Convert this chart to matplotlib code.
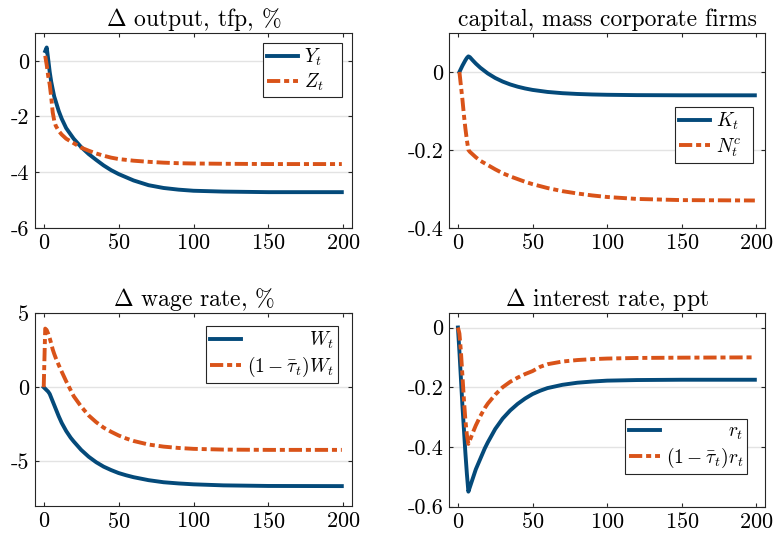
import matplotlib
matplotlib.use("Agg")
import matplotlib.pyplot as plt

plt.rcParams['font.family'] = 'serif'
plt.rcParams['font.serif'] = ['cmr10']
plt.rcParams['mathtext.fontset'] = 'cm'
plt.rcParams['axes.unicode_minus'] = False
plt.rcParams['axes.formatter.use_mathtext'] = True

# transition paths, periods
t_top = [1, 2, 3, 4, 5, 6, 7, 8, 10, 12, 15, 20, 25, 30, 35, 40, 45, 50,
         60, 70, 80, 90, 100, 120, 150, 199]
t_bot = [0, 1, 2, 3, 4, 5, 6, 7, 8, 10, 12, 15, 18, 20, 25, 30, 35, 40, 45,
         50, 55, 60, 70, 80, 90, 100, 120, 150, 199]

# output and tfp, % deviation
Y = [0.35, 0.48, 0.05, -0.4, -0.75, -1.02, -1.28, -1.45, -1.8, -2.08, -2.42,
     -2.8, -3.1, -3.35, -3.56, -3.76, -3.93, -4.07, -4.3, -4.47, -4.57, -4.63,
     -4.67, -4.7, -4.72, -4.72]
Z = [0.18, -0.15, -0.55, -0.85, -1.3, -1.85, -2.15, -2.33, -2.52, -2.65, -2.8,
     -2.96, -3.12, -3.23, -3.33, -3.41, -3.48, -3.53, -3.59, -3.63, -3.66,
     -3.68, -3.69, -3.7, -3.71, -3.71]

# capital and mass of corporate firms
K = [0.0, 0.008, 0.016, 0.023, 0.03, 0.036, 0.04, 0.038, 0.0295, 0.0215,
     0.0109, -0.0038, -0.0155, -0.0247, -0.032, -0.0378, -0.0424, -0.0461,
     -0.0513, -0.0545, -0.0565, -0.0578, -0.0586, -0.0595, -0.0599, -0.06]
Nc = [0.0, -0.035, -0.07, -0.11, -0.145, -0.175, -0.2, -0.205, -0.212, -0.219,
      -0.228, -0.239, -0.25, -0.26, -0.268, -0.275, -0.282, -0.288, -0.298,
      -0.306, -0.312, -0.317, -0.321, -0.326, -0.329, -0.33]

# wages, % deviation
W = [0, -0.1, -0.2, -0.3, -0.45, -0.7, -0.95, -1.2, -1.45, -1.95, -2.4, -2.95,
     -3.4, -3.65, -4.22, -4.68, -5.05, -5.35, -5.58, -5.78, -5.93, -6.06,
     -6.26, -6.4, -6.48, -6.54, -6.61, -6.65, -6.66]
W_net = [0, 3.95, 3.85, 3.6, 3.3, 2.95, 2.55, 2.25, 1.98, 1.5, 1.05, 0.4,
         -0.2, -0.6, -1.3, -1.9, -2.35, -2.72, -3.0, -3.25, -3.45, -3.62,
         -3.86, -4.0, -4.09, -4.15, -4.2, -4.22, -4.22]

# interest rate, ppt
r = [0, -0.08, -0.17, -0.26, -0.34, -0.42, -0.49, -0.55, -0.535, -0.505,
     -0.475, -0.44, -0.405, -0.385, -0.34, -0.305, -0.278, -0.256, -0.238,
     -0.223, -0.212, -0.203, -0.192, -0.185, -0.181, -0.178, -0.176, -0.175,
     -0.175]
r_net = [0, -0.02, -0.08, -0.16, -0.24, -0.31, -0.36, -0.39, -0.378, -0.352,
         -0.328, -0.297, -0.27, -0.255, -0.225, -0.2, -0.182, -0.168, -0.156,
         -0.146, -0.132, -0.123, -0.114, -0.109, -0.106, -0.104, -0.102,
         -0.101, -0.1]

titles = [r'$\Delta$ output, tfp, %', 'capital, mass corporate firms',
          r'$\Delta$ wage rate, %', r'$\Delta$ interest rate, ppt']
xticks = [0, 50, 100, 150, 200]
yticks = [[0, -2, -4, -6], [0, -0.2, -0.4], [5, 0, -5], [0, -0.2, -0.4, -0.6]]
yticklabels = [['0', '-2', '-4', '-6'], ['0', '-0.2', '-0.4'],
               ['5', '0', '-5'], ['0', '-0.2', '-0.4', '-0.6']]
ylims = [(-6, 1), (-0.4, 0.1), (-8, 5), (-0.6, 0.05)]

blue = '#044a7a'
orange = '#d95319'
dashdot = (0, (3.4, 1.0, 1.3, 1.0))
lw = 2.8

fig = plt.figure(figsize=(7.75, 5.41), dpi=100)
pos = [[0.0452, 0.5790, 0.4090, 0.3600],
       [0.5797, 0.5790, 0.4074, 0.3600],
       [0.0452, 0.0647, 0.4090, 0.3567],
       [0.5797, 0.0636, 0.4074, 0.3586]]
axs = [fig.add_axes(p) for p in pos]

# trailing blanks widen the short legend boxes a bit
series = [(t_top, Y, Z, r'$Y_t$   ', r'$Z_t$   '),
          (t_top, K, Nc, r'$K_t$  ', r'$N_t^c$  '),
          (t_bot, W, W_net, r'$W_t$', r'$(1-\bar{\tau}_t)W_t$'),
          (t_bot, r, r_net, r'$r_t$', r'$(1-\bar{\tau}_t)r_t$')]
leg_anchor = [(0.968, 0.949), (0.962, 0.621), (0.956, 0.933), (0.943, 0.452)]

legends = []
for i, ax in enumerate(axs):
    tt, a, b, la, lb = series[i]
    ax.plot(tt, a, color=blue, lw=lw, label=la, zorder=3)
    ax.plot(tt, b, color=orange, lw=lw, ls=dashdot, label=lb, zorder=3)
    ax.set_xlim(-5.8, 205.8)
    ax.set_ylim(*ylims[i])
    ax.set_xticks(xticks)
    ax.set_yticks(yticks[i], yticklabels[i])
    ax.grid(axis='y', color='#e3e3e3', lw=1.0, zorder=0)
    ax.set_axisbelow(True)
    ax.tick_params(direction='in', length=3, width=0.8, top=True, right=True,
                   labelsize=16, colors='#262626', labelcolor='black', pad=4)
    for s in ax.spines.values():
        s.set_color('#262626')
        s.set_linewidth(0.8)
    ax.set_title(titles[i], fontsize=17, pad=5)
    leg = ax.legend(loc='upper right', bbox_to_anchor=leg_anchor[i],
                    borderaxespad=0, fontsize=14, fancybox=False,
                    framealpha=1, edgecolor='#262626', handlelength=1.6,
                    handletextpad=0.3, borderpad=0.2, labelspacing=0.2)
    leg.get_frame().set_linewidth(0.8)
    legends.append(leg)

# right-align the entries of the two-line legends in the lower panels
fig.canvas.draw()
rend = fig.canvas.get_renderer()
for leg in legends[2:]:
    texts = leg.get_texts()
    widths = [tx.get_window_extent(rend).width for tx in texts]
    for tx, w in zip(texts, widths):
        tx.set_position((max(widths) - w, 0))

fig.savefig('out.png', dpi=100)
